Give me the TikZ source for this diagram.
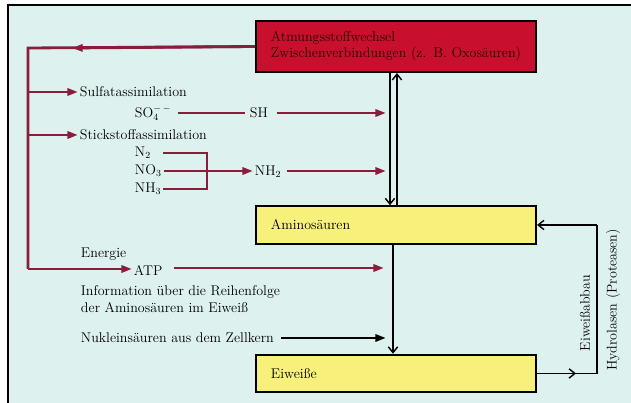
\documentclass[tikz,border=0pt]{standalone}
\usepackage{fontspec}
\usepackage{xcolor}
\usepackage{tikz}
\usetikzlibrary{arrows.meta,positioning}
\definecolor{bgcyan}{HTML}{DDF1EE}
\definecolor{crimson}{HTML}{C8102E}
\definecolor{maroon}{HTML}{8A1C3C}
\definecolor{lemon}{HTML}{F7F17C}
\tikzset{
  box/.style={
    rectangle,
    draw=black,
    line width=1.8pt,
    minimum width=8.4cm,
    inner xsep=0.45cm,
    text width=7.5cm,
    align=left
  },
  txt/.style={
    anchor=west,
    inner sep=1.5pt,
    align=left
  }
}

\begin{document}
\begin{tikzpicture}[
  x=0.03cm, y=-0.03cm,
  font=\fontsize{12}{14}\selectfont,
  red_box/.style={box, fill=crimson, text=black!85!red, minimum height=1.53cm},
  yellow_box/.style={box, fill=lemon, minimum height=1.12cm},
  maroon_line/.style={draw=maroon, line width=2.4pt},
  maroon_arrow/.style={maroon_line, -{Triangle[length=9pt,width=6pt]}},
  open_arrow/.style={draw=black, line width=1.2pt, -{Straight Barb[length=5pt,width=8pt]}},
  thin_line/.style={draw=black, line width=1.2pt},
  black_arrow/.style={draw=black, line width=2.4pt, -{Triangle[length=9pt,width=6pt]}}
]
\useasboundingbox (0,0) rectangle (631,403);

% Background and frame
\fill[bgcyan] (8,5) rectangle (631,403);
\draw[black, line width=1.4pt] (631,5) -- (8,5) -- (8,403);

% Boxes
\node[red_box] (stoffw) at (396,46.5) {Atmungsstoffwechsel\\\mbox{Zwischenverbindungen (z. B. Oxosäuren)}};
\node[yellow_box] (amino) at (396,225) {Aminosäuren};
\node[yellow_box] (eiw) at (396,373.5) {Eiweiße};

% Left hand labels
\node[txt] (sulfat) at (78,92) {Sulfatassimilation};
\node[txt] (so4) at (133,113) {SO$_4^{-\,-}$};
\node[txt] (sh) at (248,113) {SH};
\node[txt] (stick) at (78,135) {Stickstoffassimilation};
\node[txt] (n2) at (133,153) {N$_2$};
\node[txt] (no3) at (133,171) {NO$_3$};
\node[txt] (nh3) at (133,189) {NH$_3$};
\node[txt] (nh2) at (253,172) {NH$_2$};
\node[txt] (energie) at (79,254) {Energie};
\node[txt] (atp) at (132,270) {ATP};
\node[txt] (info) at (79,299) {Information über die Reihenfolge\\der Aminosäuren im Eiweiß};
\node[txt] (nuklein) at (79,338) {Nukleinsäuren aus dem Zellkern};

% Right hand labels
\node[rotate=90] (abbau) at (585,313) {Eiweißabbau};
\node[rotate=90] (hydro) at (613,300) {Hydrolasen (Proteasen)};

% Helper points
\coordinate (trunkTop) at (28,48);
\coordinate (trunkBot) at (28,269);
\coordinate (midL) at (72,48);
\coordinate (brk) at (207,171);
\coordinate (sIn) at (386,113);
\coordinate (nIn) at (386,171);
\coordinate (aIn) at (384,268);
\coordinate (kIn) at (386,338);
\coordinate (loopB) at (597,373.5);
\coordinate (loopT) at (597,225);
\coordinate (midR) at (576,373.5);

% Maroon trunk
\draw[maroon_line] (stoffw.west) -- (trunkTop) -- (trunkBot);
\draw[maroon_arrow] (stoffw.west) -- (midL);
\draw[maroon_arrow] (sulfat.west -| trunkTop) -- (sulfat.west);
\draw[maroon_arrow] (stick.west -| trunkTop) -- (stick.west);
\draw[maroon_arrow] (trunkBot) -- (atp.west |- trunkBot);

% Sulfate path
\draw[maroon_line] ([xshift=0.15cm]so4.east) -- ([xshift=-0.1cm]sh.west);
\draw[maroon_arrow] ([xshift=0.2cm]sh.east) -- (sIn);

% Nitrogen path
\draw[maroon_line] (n2.east -| nh3.east) -- (n2.east -| brk) -- (nh3.east -| brk) -- (nh3.east);
\draw[maroon_line] (no3.east) -- (brk);
\draw[maroon_arrow] (brk) -- (nh2.west |- brk);
\draw[maroon_arrow] ([xshift=0.1cm]nh2.east |- nIn) -- (nIn);

% Energy path
\draw[maroon_arrow] ([xshift=0.3cm]atp.east |- aIn) -- (aIn);

% Nucleic acids
\draw[black_arrow] ([xshift=0.15cm]nuklein.east) -- (kIn);

% Vertical connections
\draw[open_arrow] ([xshift=-0.18cm]stoffw.south) -- ([xshift=-0.18cm]amino.north);
\draw[open_arrow] ([xshift=0.03cm]amino.north) -- ([xshift=0.03cm]stoffw.south);
\draw[open_arrow] ([xshift=-0.09cm]amino.south) -- ([xshift=-0.09cm]eiw.north);

% Protein breakdown loop
\draw[thin_line] (eiw.east) -- (loopB) -- (loopT);
\draw[open_arrow] (eiw.east) -- (midR);
\draw[open_arrow] (loopT) -- (amino.east);

\end{tikzpicture}
\end{document}
